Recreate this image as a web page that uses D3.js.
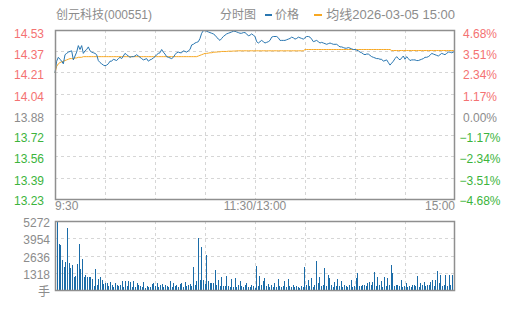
<!DOCTYPE html>
<html>
<head>
<meta charset="utf-8">
<script src="https://cdn.jsdelivr.net/npm/d3@7"></script>
<style>
  body { margin: 0; background: #fff; }
  text { font-family: "Liberation Sans", "Noto Sans CJK SC", sans-serif; font-size: 12px; }
</style>
</head>
<body>
<div id="chart"></div>
<script>
// chart data
const stockName = "创元科技(000551)";
const preClose = 13.88;
const priceTicks = ["14.53", "14.37", "14.21", "14.04", "13.88", "13.72", "13.56", "13.39", "13.23"];
const pctTicks = ["4.68%", "3.51%", "2.34%", "1.17%", "0.00%", "−1.17%", "−2.34%", "−3.51%", "−4.68%"];
const timeTicks = ["9:30", "11:30/13:00", "15:00"];
const volTicks = ["5272", "3954", "2636", "1318"];

// one value per minute, 9:30-11:30 then 13:01-15:00
const price = [
  14.20, 14.29, 14.32, 14.305, 14.29, 14.27, 14.34, 14.35, 14.36, 14.365,
  14.37, 14.30, 14.33, 14.36, 14.41, 14.38, 14.41, 14.35, 14.37, 14.38,
  14.40, 14.37, 14.36, 14.355, 14.35, 14.34, 14.295, 14.28, 14.27, 14.26,
  14.255, 14.26, 14.27, 14.29, 14.29, 14.305, 14.30, 14.295, 14.31, 14.32,
  14.31, 14.33, 14.35, 14.34, 14.33, 14.32, 14.325, 14.325, 14.33, 14.34,
  14.33, 14.32, 14.31, 14.30, 14.305, 14.31, 14.29, 14.30, 14.305, 14.315,
  14.325, 14.34, 14.35, 14.355, 14.38, 14.36, 14.345, 14.325, 14.32, 14.315,
  14.31, 14.32, 14.34, 14.355, 14.36, 14.355, 14.355, 14.37, 14.365, 14.36,
  14.37, 14.38, 14.415, 14.42, 14.43, 14.435, 14.44, 14.465, 14.505, 14.525,
  14.525, 14.52, 14.515, 14.51, 14.505, 14.50, 14.49, 14.475, 14.46, 14.45,
  14.465, 14.48, 14.49, 14.50, 14.505, 14.51, 14.515, 14.52, 14.52, 14.515,
  14.51, 14.505, 14.505, 14.51, 14.51, 14.50, 14.485, 14.49, 14.50, 14.49,
  14.48,
  14.44, 14.43, 14.44, 14.45, 14.44, 14.43, 14.435, 14.44, 14.45,
  14.475, 14.48, 14.48, 14.48, 14.47, 14.45, 14.45, 14.45, 14.45, 14.455,
  14.46, 14.465, 14.475, 14.47, 14.46, 14.465, 14.475, 14.47, 14.465, 14.46,
  14.47, 14.48, 14.48, 14.475, 14.46, 14.44, 14.445, 14.45, 14.44, 14.43,
  14.435, 14.43, 14.425, 14.42, 14.425, 14.43, 14.425, 14.42, 14.42, 14.42,
  14.41, 14.40, 14.40, 14.395, 14.39, 14.39, 14.395, 14.39, 14.385, 14.38,
  14.38, 14.375, 14.37, 14.36, 14.355, 14.345, 14.34, 14.345, 14.345, 14.335,
  14.325, 14.32, 14.315, 14.31, 14.31, 14.305, 14.305, 14.29, 14.295, 14.30,
  14.28, 14.26, 14.275, 14.29, 14.31, 14.325, 14.31, 14.30, 14.315, 14.33,
  14.305, 14.325, 14.31, 14.295, 14.30, 14.30, 14.30, 14.295, 14.295, 14.30,
  14.305, 14.31, 14.32, 14.32, 14.325, 14.335, 14.35, 14.345, 14.34, 14.335,
  14.33, 14.34, 14.35, 14.345, 14.34, 14.35, 14.36, 14.36, 14.355, 14.36,
  14.365
];

const avgPrice = [
  14.20, 14.25, 14.27, 14.28, 14.285, 14.29, 14.295, 14.30, 14.305, 14.31,
  14.31, 14.31, 14.315, 14.315, 14.32, 14.32, 14.32, 14.325, 14.325, 14.325,
  14.325, 14.325, 14.325, 14.325, 14.325, 14.325, 14.325, 14.325, 14.325, 14.325,
  14.325, 14.325, 14.325, 14.325, 14.325, 14.325, 14.325, 14.325, 14.325, 14.325,
  14.325, 14.325, 14.325, 14.325, 14.325, 14.325, 14.325, 14.325, 14.325, 14.325,
  14.325, 14.325, 14.325, 14.325, 14.325, 14.325, 14.325, 14.325, 14.325, 14.325,
  14.325, 14.325, 14.325, 14.325, 14.325, 14.325, 14.325, 14.325, 14.325, 14.325,
  14.325, 14.325, 14.325, 14.325, 14.325, 14.325, 14.325, 14.325, 14.325, 14.325,
  14.325, 14.325, 14.325, 14.325, 14.325, 14.325, 14.33, 14.335, 14.34, 14.345,
  14.35, 14.35, 14.352, 14.355, 14.355, 14.358, 14.36, 14.36, 14.362, 14.362,
  14.365, 14.365, 14.365, 14.365, 14.367, 14.367, 14.367, 14.368, 14.368, 14.37,
  14.37, 14.37, 14.37, 14.37, 14.37, 14.37, 14.37, 14.37, 14.37, 14.37,
  14.37,
  14.37, 14.37, 14.37, 14.37, 14.37, 14.37, 14.37, 14.37, 14.37,
  14.37, 14.37, 14.37, 14.37, 14.37, 14.37, 14.37, 14.37, 14.37, 14.37,
  14.37, 14.37, 14.37, 14.37, 14.37, 14.37, 14.37, 14.37, 14.37, 14.37,
  14.38, 14.38, 14.38, 14.38, 14.38, 14.38, 14.38, 14.38, 14.38, 14.38,
  14.38, 14.38, 14.38, 14.38, 14.38, 14.38, 14.38, 14.38, 14.38, 14.38,
  14.38, 14.38, 14.38, 14.38, 14.38, 14.38, 14.38, 14.38, 14.38, 14.38,
  14.38, 14.38, 14.38, 14.38, 14.38, 14.38, 14.38, 14.38, 14.38, 14.38,
  14.38, 14.38, 14.38, 14.38, 14.38, 14.38, 14.38, 14.38, 14.38, 14.38,
  14.38, 14.38, 14.372, 14.372, 14.372, 14.372, 14.372, 14.372, 14.372, 14.372,
  14.372, 14.372, 14.372, 14.372, 14.372, 14.372, 14.372, 14.372, 14.372, 14.372,
  14.372, 14.372, 14.372, 14.372, 14.372, 14.372, 14.372, 14.372, 14.372, 14.372,
  14.372, 14.372, 14.372, 14.372, 14.372, 14.372, 14.372, 14.372, 14.372, 14.372,
  14.372
];

const volume = [
  1200, 5272, 3550, 3470, 2330, 1780, 2150, 4700, 2050, 1700,
  1880, 960, 1040, 1950, 3500, 1620, 2400, 1010, 1170, 960,
  960, 960, 860, 300, 1600, 360, 810, 1010, 760, 430,
  510, 510, 300, 610, 350, 260, 560, 420, 300, 400,
  700, 250, 650, 300, 700, 600, 250, 650, 200, 550,
  400, 300, 250, 620, 150, 300, 250, 200, 450, 550,
  300, 500, 200, 380, 450, 250, 420, 300, 200, 650,
  250, 550, 300, 380, 200, 450, 500, 250, 620, 300,
  350, 450, 300, 1780, 400, 660, 3980, 760, 3300, 735,
  450, 2660, 710, 530, 510, 530, 1520, 400, 760, 300,
  990, 300, 280, 1040, 280, 250, 860, 200, 910, 250,
  380, 660, 300, 250, 400, 530, 250, 200, 380, 300,
  150,
  1825, 300, 1040, 400, 650, 900, 300, 480, 250,
  350, 200, 500, 250, 810, 300, 200, 300, 660, 250,
  810, 300, 200, 400, 250, 300, 200, 150, 300, 250,
  1720, 400, 735, 300, 890, 250, 400, 2180, 500, 960,
  300, 400, 1650, 300, 1160, 890, 400, 250, 610, 300,
  810, 300, 660, 200, 400, 300, 250, 350, 735, 200,
  300, 890, 1290, 300, 300, 400, 350, 300, 500, 580,
  400, 580, 1370, 300, 960, 400, 710, 250, 960, 300,
  910, 400, 1880, 1290, 300, 350, 400, 300, 735, 250,
  300, 510, 200, 300, 250, 400, 350, 300, 1040, 250,
  510, 400, 610, 300, 350, 400, 600, 735, 300, 790,
  1470, 500, 1160, 300, 400, 1110, 300, 1110, 400, 1110,
  1370
];

const W = 505, H = 310;
const left = 55, right = 455;
const mainTop = 30, mainBottom = 199;
const volTop = 221, volBottom = 290;

const gray = "#8c8c8c", red = "#f47272", green = "#3cb43c";
const gridColor = "#d6d6d6", borderColor = "#8f8f8f";
const blue = "#2a77b1", barBlue = "#1b6ca8", orange = "#f7a823";

const svg = d3.select("#chart").append("svg")
  .attr("width", W)
  .attr("height", H);

const x = d3.scaleLinear().domain([0, 240]).range([left, right]);
const xb = d3.scaleBand().domain(d3.range(volume.length)).range([left, right]);
const y = d3.scaleLinear().domain([+priceTicks[8], +priceTicks[0]]).range([mainBottom, mainTop]);
// labels sit a little below their grid lines, spread a bit tighter
const yLab = d3.scaleLinear().domain([+priceTicks[8], +priceTicks[0]]).range([201, 34]);
const yv = d3.scaleLinear().domain([0, +volTicks[0]]).range([volBottom, volTop]);

function tickColor(v) {
  if (Math.abs(v - preClose) < 0.001) return gray;
  return v > preClose ? red : green;
}

// title + legend
svg.append("text").attr("x", 56).attr("y", 19).attr("fill", gray).text(stockName);
svg.append("text").attr("x", 220).attr("y", 19).attr("fill", gray).text("分时图");
svg.append("line").attr("x1", 265).attr("x2", 272).attr("y1", 15).attr("y2", 15)
  .attr("stroke", blue).attr("stroke-width", 2);
svg.append("text").attr("x", 275).attr("y", 19).attr("fill", gray).text("价格");
svg.append("line").attr("x1", 314).attr("x2", 322).attr("y1", 15).attr("y2", 15)
  .attr("stroke", orange).attr("stroke-width", 2);
svg.append("text").attr("x", 455).attr("y", 19).attr("fill", gray)
  .attr("text-anchor", "end").style("font-size", "13px").text("均线2026-03-05 15:00");

// grid, main panel
const grid = svg.append("g").attr("stroke", gridColor).attr("stroke-dasharray", "3,3");
priceTicks.slice(1, -1).forEach(t => {
  grid.append("line").attr("x1", left).attr("x2", right)
    .attr("y1", Math.round(y(+t)) + 0.5).attr("y2", Math.round(y(+t)) + 0.5);
});
[30, 60, 90, 120, 150, 180, 210].forEach(m => {
  const gx = Math.round(x(m)) + 0.5;
  grid.append("line").attr("x1", gx).attr("x2", gx).attr("y1", mainTop).attr("y2", mainBottom);
  grid.append("line").attr("x1", gx).attr("x2", gx).attr("y1", volTop).attr("y2", volBottom);
});
volTicks.slice(1).forEach(t => {
  const gy = Math.round(yv(+t)) + 0.5;
  grid.append("line").attr("x1", left).attr("x2", right).attr("y1", gy).attr("y2", gy);
});

// left price labels and right percent labels
priceTicks.forEach((t, i) => {
  svg.append("text").attr("x", 44).attr("y", yLab(+t)).attr("dy", "0.35em")
    .attr("text-anchor", "end").attr("fill", tickColor(+t)).text(t);
  svg.append("text").attr("x", 480).attr("y", yLab(+t)).attr("dy", "0.35em")
    .attr("text-anchor", "middle").attr("fill", tickColor(+t)).text(pctTicks[i]);
});

// time labels
[[0, "start"], [120, "middle"], [240, "end"]].forEach(([m, anchor], i) => {
  svg.append("text").attr("x", x(m)).attr("y", 210).attr("text-anchor", anchor)
    .attr("fill", gray).text(timeTicks[i]);
});

// volume labels
volTicks.forEach(t => {
  svg.append("text").attr("x", 50).attr("y", yv(+t) + 2).attr("dy", "0.35em")
    .attr("text-anchor", "end").attr("fill", gray).text(t);
});
svg.append("text").attr("x", 50).attr("y", 292).attr("dy", "0.35em")
  .attr("text-anchor", "end").attr("fill", gray).text("手");

// lines
const line = d3.line().x((d, i) => x(i)).y(d => y(d));
svg.append("path").datum(avgPrice).attr("d", line)
  .attr("fill", "none").attr("stroke", orange).attr("stroke-width", 1);
svg.append("path").datum(price).attr("d", line)
  .attr("fill", "none").attr("stroke", blue).attr("stroke-width", 1);

// volume bars
svg.append("g").selectAll("rect")
  .data(volume)
  .enter()
  .append("rect")
  .attr("x", (d, i) => Math.round(xb(i) + xb.bandwidth() / 2 - 0.5))
  .attr("width", 1)
  .attr("y", d => yv(d))
  .attr("height", d => volBottom - yv(d))
  .attr("fill", barBlue)
  .attr("shape-rendering", "crispEdges");

// borders
svg.append("rect").attr("x", left + 0.5).attr("y", mainTop + 0.5)
  .attr("width", right - left - 1).attr("height", mainBottom - mainTop)
  .attr("fill", "none").attr("stroke", borderColor).attr("stroke-width", 1.5);
svg.append("rect").attr("x", left + 0.5).attr("y", volTop + 0.5)
  .attr("width", right - left - 1).attr("height", volBottom - volTop)
  .attr("fill", "none").attr("stroke", borderColor).attr("stroke-width", 1.5);
</script>
</body>
</html>
